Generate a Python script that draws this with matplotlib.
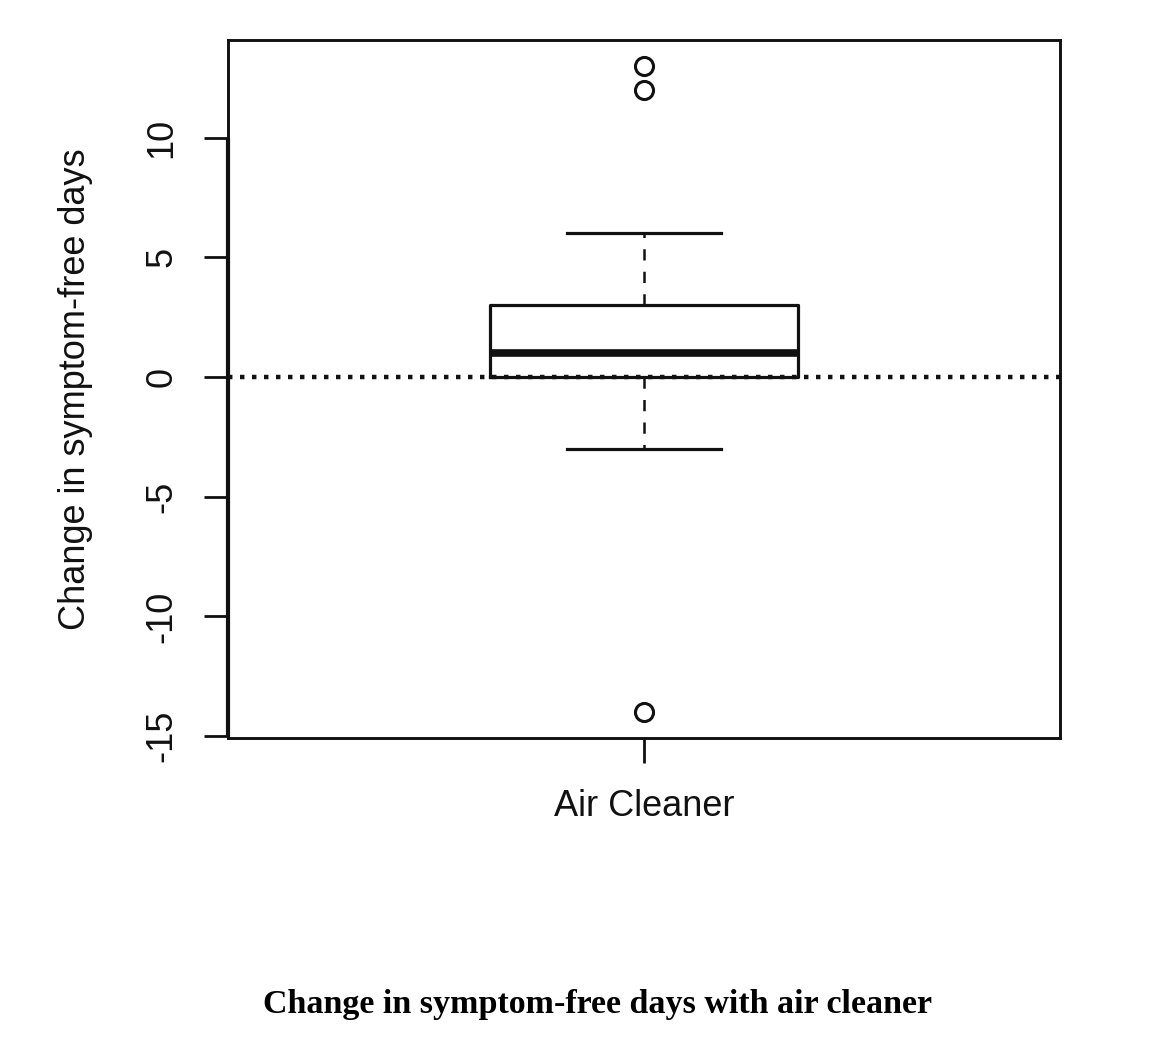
import matplotlib
matplotlib.use("Agg")
import matplotlib.pyplot as plt

# summary of the box
group_labels = ["Air Cleaner"]
q1 = [0]
medians = [1]
q3 = [3]
whisker_low = [-3]
whisker_high = [6]
outliers = [[13, 12, -14]]

y_ticks = [-15, -10, -5, 0, 5, 10]
y_label = "Change in symptom-free days"
caption = "Change in symptom-free days with air cleaner"

plt.rcParams["font.family"] = ["Liberation Sans", "DejaVu Sans"]
ink = "#111111"

fig = plt.figure(figsize=(11.62, 10.42), dpi=100)
ax = fig.add_axes([0.1962, 0.2917, 0.7160, 0.6699])

stats = []
for i in range(len(group_labels)):
    stats.append({
        "label": group_labels[i],
        "q1": q1[i], "med": medians[i], "q3": q3[i],
        "whislo": whisker_low[i], "whishi": whisker_high[i],
        "fliers": outliers[i],
    })

ax.bxp(stats, positions=[1], widths=0.37, showfliers=True,
       boxprops=dict(color=ink, linewidth=2.3),
       medianprops=dict(color=ink, linewidth=5.5),
       whiskerprops=dict(color=ink, linewidth=1.8, linestyle=(0, (4.5, 4.5))),
       capprops=dict(color=ink, linewidth=2.3),
       capwidths=0.185,
       flierprops=dict(marker="o", markersize=13, markerfacecolor="none",
                       markeredgecolor=ink, markeredgewidth=2.2))

# reference line at zero
ax.axhline(0, color=ink, linewidth=3.2, linestyle=(0, (1, 1.7)), zorder=3)

# R-style limits: 4% padding around the data
lo = min(min(o) for o in outliers)
hi = max(max(o) for o in outliers)
pad = 0.04 * (hi - lo)
ax.set_xlim(0.5, 1.5)
ax.set_ylim(lo - pad, hi + pad)

for s in ax.spines.values():
    s.set_linewidth(2.1)
    s.set_color(ink)

ax.set_yticks(y_ticks)
ax.set_yticklabels([str(t) for t in y_ticks], rotation=90, va="center")
ax.tick_params(axis="y", length=17, width=2, pad=18, labelsize=26,
               colors=ink)
ax.tick_params(axis="x", length=18, width=2, pad=19, labelsize=26,
               colors=ink)
# the y axis line itself only runs between the outer ticks
ax.plot([0.5, 0.5], [y_ticks[0], y_ticks[-1]], color=ink, linewidth=3,
        clip_on=False, zorder=4, solid_capstyle="butt")

ax.set_ylabel(y_label, fontsize=26, color=ink, labelpad=37)

fig.text(0.5146, 1 - 1004 / 1042, caption, ha="center", va="center",
         fontsize=24.5, fontweight="bold", family=["Liberation Serif", "DejaVu Serif"],
         color="black")

fig.savefig("out.png", dpi=100)
